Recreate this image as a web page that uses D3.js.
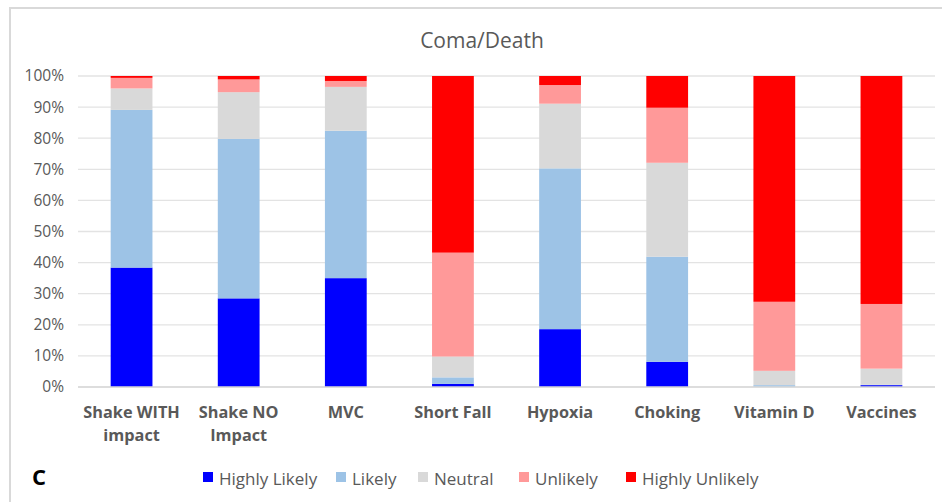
<!DOCTYPE html>
<html>
<head>
<meta charset="utf-8">
<title>Coma/Death</title>
<script src="https://d3js.org/d3.v7.min.js"></script>
<style>
body { margin: 0; background: #fff; }
svg text { font-family: "Open Sans", "Liberation Sans", sans-serif; }
</style>
</head>
<body>
<div class="chart"></div>
<script>
// data (percent of responses)
var categories = ["Shake WITH impact", "Shake NO Impact", "MVC", "Short Fall", "Hypoxia", "Choking", "Vitamin D", "Vaccines"];
var catLines = [["Shake WITH", "impact"], ["Shake NO", "Impact"], ["MVC"], ["Short Fall"], ["Hypoxia"], ["Choking"], ["Vitamin D"], ["Vaccines"]];
var seriesNames = ["Highly Likely", "Likely", "Neutral", "Unlikely", "Highly Unlikely"];
var highlyLikely   = [38.4, 28.5, 35.0, 1.0, 18.6, 8.1, 0.0, 0.6];
var likely         = [50.7, 51.3, 47.4, 2.1, 51.7, 33.8, 0.6, 0.1];
var neutral        = [6.9, 15.0, 14.1, 6.7, 20.8, 30.2, 4.6, 5.2];
var unlikely       = [3.4, 4.1, 1.9, 33.4, 6.0, 17.7, 22.2, 20.8];
var highlyUnlikely = [0.6, 1.1, 1.6, 56.8, 2.9, 10.2, 72.6, 73.3];
var yTicks = [0, 10, 20, 30, 40, 50, 60, 70, 80, 90, 100];
var colors = ["#0000ff", "#9dc3e6", "#d9d9d9", "#ff9999", "#ff0000"];

var W = 942, H = 502;
var margin = {top: 76, right: 7, bottom: 115, left: 78};

var svg = d3.select(".chart").append("svg")
    .attr("width", W)
    .attr("height", H);

// chart frame
svg.append("rect")
    .attr("x", 10).attr("y", 8)
    .attr("width", W + 20).attr("height", H + 20)
    .attr("fill", "#fff")
    .attr("stroke", "#d9d9d9")
    .attr("stroke-width", 2);

var rows = categories.map(function(c, i) {
  return {cat: c, "Highly Likely": highlyLikely[i], "Likely": likely[i], "Neutral": neutral[i],
          "Unlikely": unlikely[i], "Highly Unlikely": highlyUnlikely[i]};
});

var x = d3.scaleBand()
    .domain(categories)
    .range([margin.left, W - margin.right])
    .paddingInner(0.61)
    .paddingOuter(0.305);

var y = d3.scaleLinear()
    .domain([0, 100])
    .range([H - margin.bottom, margin.top]);

// gridlines
svg.append("g")
    .selectAll("line")
    .data(yTicks)
    .enter().append("line")
    .attr("x1", margin.left).attr("x2", W - margin.right)
    .attr("y1", function(d) { return y(d); })
    .attr("y2", function(d) { return y(d); })
    .attr("stroke", "#e3e3e3")
    .attr("stroke-width", 1.3);

// y axis labels
var yAxis = svg.append("g")
    .attr("transform", "translate(" + margin.left + ",0)")
    .call(d3.axisLeft(y).tickValues(yTicks).tickSize(0).tickPadding(14).tickFormat(function(d) { return d + "%"; }));
yAxis.select(".domain").remove();
yAxis.selectAll("text")
    .attr("fill", "#595959")
    .style("font-size", "15.5px");

// stacked bars
var stack = d3.stack().keys(seriesNames)(rows);
svg.append("g")
    .selectAll("g")
    .data(stack)
    .enter().append("g")
    .attr("fill", function(d, i) { return colors[i]; })
    .selectAll("rect")
    .data(function(d) { return d; })
    .enter().append("rect")
    .attr("x", function(d) { return x(d.data.cat); })
    .attr("width", x.bandwidth())
    .attr("y", function(d) { return y(d[1]); })
    .attr("height", function(d) { return y(d[0]) - y(d[1]); });

// baseline
svg.append("line")
    .attr("x1", margin.left).attr("x2", W - margin.right)
    .attr("y1", y(0)).attr("y2", y(0))
    .attr("stroke", "#d9d9d9")
    .attr("stroke-width", 1.3);

// category labels
categories.forEach(function(c, i) {
  var t = svg.append("text")
      .attr("x", x(c) + x.bandwidth() / 2)
      .attr("y", y(0) + 31)
      .attr("text-anchor", "middle")
      .attr("fill", "#595959")
      .style("font-size", "16.3px")
      .style("font-weight", "bold");
  catLines[i].forEach(function(l, j) {
    t.append("tspan")
        .attr("x", x(c) + x.bandwidth() / 2)
        .attr("dy", j === 0 ? 0 : 23)
        .text(l);
  });
});

// title
svg.append("text")
    .attr("x", 482).attr("y", 48)
    .attr("text-anchor", "middle")
    .attr("fill", "#595959")
    .style("font-size", "21px")
    .text("Coma/Death");

// panel letter
svg.append("text")
    .attr("x", 32).attr("y", 485)
    .attr("fill", "#000")
    .style("font-size", "22px")
    .style("font-weight", "bold")
    .text("C");

// legend
var legendX = [203, 336, 418, 519, 626];
var legend = svg.append("g");
seriesNames.forEach(function(s, i) {
  legend.append("rect")
      .attr("x", legendX[i]).attr("y", 472)
      .attr("width", 10).attr("height", 10)
      .attr("fill", colors[i]);
  legend.append("text")
      .attr("x", legendX[i] + 16).attr("y", 485)
      .attr("fill", "#595959")
      .style("font-size", "17px")
      .text(s);
});
</script>
</body>
</html>
